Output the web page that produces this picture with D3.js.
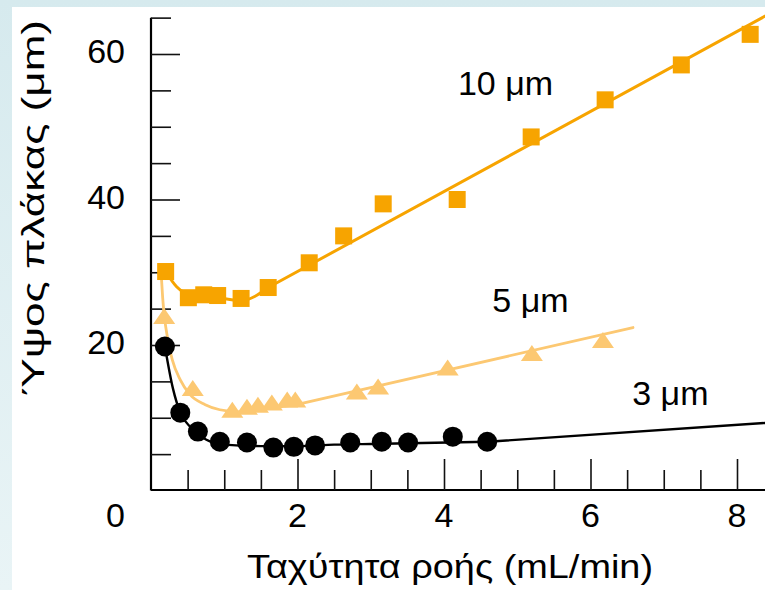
<!DOCTYPE html>
<html><head><meta charset="utf-8">
<script src="https://cdn.jsdelivr.net/npm/d3@7"></script>
<style>html,body{margin:0;padding:0;background:#fff;}svg{display:block;}</style>
</head><body>
<svg id="chart" width="765" height="590"></svg>
<script>
// ---- data ----
const flow10 = [0.20, 0.51, 0.72, 0.91, 1.23, 1.60, 2.16, 2.63, 3.17, 4.18, 5.19, 6.20, 7.24, 8.18];
const height10 = [30.1, 26.5, 26.9, 26.8, 26.4, 27.9, 31.3, 35.0, 39.4, 40.0, 48.6, 53.7, 58.5, 62.7];
const fitFlow10 = [0.20, 0.35, 0.55, 0.80, 1.23, 1.60, 8.40];
const fitHeight10 = [30.1, 28.0, 26.9, 26.7, 26.1, 27.9, 65.3];

const flow5 = [0.18, 0.57, 1.11, 1.31, 1.46, 1.65, 1.86, 1.97, 2.81, 3.10, 4.05, 5.20, 6.17];
const height5 = [24.0, 14.1, 11.1, 11.5, 11.8, 12.1, 12.5, 12.5, 13.6, 14.3, 16.9, 18.9, 20.7];
const fitFlow5 = [0.14, 0.16, 0.23, 0.29, 0.40, 0.53, 0.74, 0.94, 1.22, 1.49, 2.03, 6.58];
const fitHeight5 = [29.6, 26.4, 20.7, 18.0, 15.2, 13.2, 11.8, 11.1, 10.8, 11.1, 11.9, 22.4];

const flow3 = [0.19, 0.40, 0.64, 0.94, 1.31, 1.67, 1.95, 2.24, 2.72, 3.15, 3.51, 4.12, 4.59];
const height3 = [19.8, 10.7, 8.1, 6.7, 6.6, 5.9, 6.0, 6.2, 6.6, 6.7, 6.6, 7.4, 6.7];
const fitFlow3 = [0.19, 0.30, 0.40, 0.55, 0.75, 1.00, 1.50, 2.00, 2.50, 3.00, 4.60, 8.40];
const fitHeight3 = [19.8, 14.0, 10.7, 8.6, 7.0, 6.3, 6.1, 6.1, 6.3, 6.4, 6.7, 9.3];

const seriesLabels = ["10 μm", "5 μm", "3 μm"];
const labelFlow = [4.19, 4.66, 6.57];
const labelHeight = [54.3, 24.6, 11.7];

const xTickLabels = [2, 4, 6, 8];
const yTickLabels = [20, 40, 60];
const xMinorTicks = [0.5,1,1.5,2.5,3,3.5,4.5,5,5.5,6.5,7,7.5,8.5];
const yMinorTicks = [5,10,15,25,30,35,45,50,55,65];
const xTitle = "Ταχύτητα ροής (mL/min)";
const yTitle = "Ύψος πλάκας (μm)";

// ---- chart ----
const svg = d3.select("#chart");
const W = 765, H = 590;
const defs = svg.append("defs");
const grad = defs.append("linearGradient").attr("id","bg").attr("x1",0).attr("y1",0).attr("x2",0).attr("y2",1);
grad.append("stop").attr("offset","0%").attr("stop-color","#d6eaee");
grad.append("stop").attr("offset","100%").attr("stop-color","#e9f4f6");
svg.append("rect").attr("width",W).attr("height",H).attr("fill","url(#bg)");
svg.append("rect").attr("x",12).attr("y",7).attr("width",W-12).attr("height",H-7).attr("fill","#fff");

const x = d3.scaleLinear().domain([0, 8]).range([151, 737]);
const y = d3.scaleLinear().domain([0, 60]).range([490.5, 54]);
const font = "'Liberation Sans', Arial, Helvetica, sans-serif";

defs.append("clipPath").attr("id","clip").append("rect").attr("x",151).attr("y",7).attr("width",W-151).attr("height",484);

// y axis (ticks pointing right, inside)
const yAxisMinor = d3.axisRight(y).tickValues(yMinorTicks).tickSize(20).tickSizeOuter(0).tickFormat("");
const yAxisMajor = d3.axisRight(y).tickValues(yTickLabels).tickSize(29).tickSizeOuter(0).tickFormat("");
const gyMin = svg.append("g").attr("transform","translate(151,0)").call(yAxisMinor);
const gyMaj = svg.append("g").attr("transform","translate(151,0)").call(yAxisMajor);
gyMaj.select(".domain").remove();
gyMin.select(".domain").attr("d", `M0,${y(65)}V${y(0)}`);
// x axis (ticks pointing up, inside)
const xAxisMinor = d3.axisTop(x).tickValues(xMinorTicks).tickSize(20).tickSizeOuter(0).tickFormat("");
const xAxisMajor = d3.axisTop(x).tickValues(xTickLabels).tickSize(31).tickSizeOuter(0).tickFormat("");
const gxMin = svg.append("g").attr("transform","translate(0,490)").call(xAxisMinor);
const gxMaj = svg.append("g").attr("transform","translate(0,490)").call(xAxisMajor);
gxMaj.select(".domain").remove();
gxMin.select(".domain").attr("d", `M${x(0)},0H${W}`);
svg.selectAll(".domain").attr("stroke","#000").attr("stroke-width",2.2);
svg.selectAll(".tick line").attr("stroke","#111").attr("stroke-width",1.6);

// tick labels
svg.append("g").selectAll("text").data(yTickLabels).join("text")
  .attr("x",125).attr("y",d=>y(d)+9).attr("text-anchor","end")
  .attr("font-family",font).attr("font-size",34).attr("fill","#000").text(d=>d);
svg.append("g").selectAll("text").data(xTickLabels).join("text")
  .attr("x",d=>x(d)).attr("y",527).attr("text-anchor","middle")
  .attr("font-family",font).attr("font-size",34).attr("fill","#000").text(d=>d);
svg.append("text").attr("x",125).attr("y",527).attr("text-anchor","end")
  .attr("font-family",font).attr("font-size",34).attr("fill","#000").text("0");

// titles
svg.append("text").attr("x",450).attr("y",578).attr("text-anchor","middle")
  .attr("font-family",font).attr("font-size",33).attr("fill","#000")
  .attr("textLength",406).attr("lengthAdjust","spacingAndGlyphs").text(xTitle);
svg.append("text").attr("transform","translate(44,208) rotate(-90)").attr("text-anchor","middle")
  .attr("font-family",font).attr("font-size",32).attr("fill","#000")
  .attr("textLength",376).attr("lengthAdjust","spacingAndGlyphs").text(yTitle);

// lines: smooth part, then straight final segment
const colors = ["#f7a400", "#fcc872", "#000000"];
const fits = [[fitFlow3, fitHeight3, colors[2], 2.4], [fitFlow5, fitHeight5, colors[1], 2.8], [fitFlow10, fitHeight10, colors[0], 3]];
const smooth = d3.line().x(d=>x(d[0])).y(d=>y(d[1])).curve(d3.curveMonotoneX);
const straight = d3.line().x(d=>x(d[0])).y(d=>y(d[1]));
const gl = svg.append("g").attr("clip-path","url(#clip)");
fits.forEach(([fx, fy, c, w]) => {
  const pts = fx.map((v,i)=>[v, fy[i]]);
  const n = pts.length;
  [[smooth, pts.slice(0, n-1)], [straight, pts.slice(n-2)]].forEach(([gen, p]) => {
    gl.append("path").datum(p).attr("d", gen)
      .attr("fill","none").attr("stroke",c).attr("stroke-width",w)
      .attr("stroke-linejoin","round").attr("stroke-linecap","round");
  });
});

// markers
svg.append("g").selectAll("circle").data(flow3.map((v,i)=>[v,height3[i]])).join("circle")
  .attr("cx",d=>x(d[0])).attr("cy",d=>y(d[1])).attr("r",10).attr("fill","#000");
svg.append("g").selectAll("path").data(flow5.map((v,i)=>[v,height5[i]])).join("path")
  .attr("transform",d=>`translate(${x(d[0])},${y(d[1])})`)
  .attr("d","M0,-8L11,8L-11,8Z").attr("fill",colors[1]);
svg.append("g").attr("clip-path","url(#clip)").selectAll("rect").data(flow10.map((v,i)=>[v,height10[i]])).join("rect")
  .attr("x",d=>x(d[0])-8.5).attr("y",d=>y(d[1])-8.5).attr("width",17).attr("height",17).attr("fill",colors[0]);

// series labels
svg.append("g").selectAll("text").data(seriesLabels).join("text")
  .attr("x",(d,i)=>x(labelFlow[i])).attr("y",(d,i)=>y(labelHeight[i]))
  .attr("font-family",font).attr("font-size",34).attr("fill","#000").text(d=>d);
</script>
</body></html>
